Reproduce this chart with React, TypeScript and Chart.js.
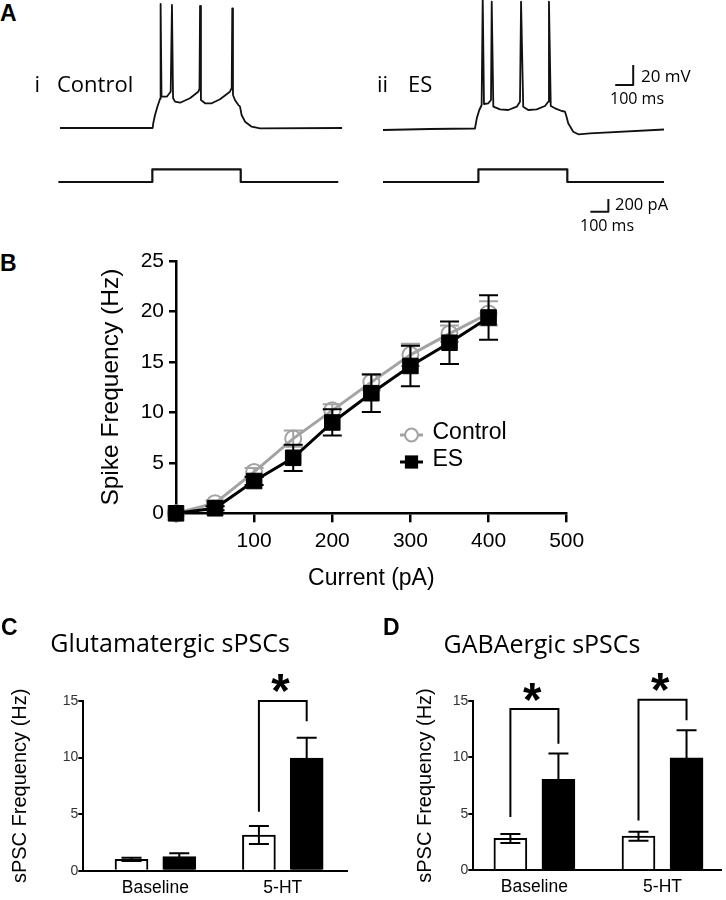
import React, { useEffect, useRef } from 'react';
import { Chart, registerables } from 'chart.js';

Chart.register(...registerables);

const ARIAL = '"Liberation Sans", Arial, Helvetica, sans-serif';
const NARROW = '"Liberation Sans", Arial, Helvetica, sans-serif';
const MYRIAD = '"Open Sans", "Noto Sans", sans-serif';
const GRAY = '#a3a3a3';

// ---------- Panel A : example traces (time ms, potential mV, injected current pA) ----------
const controlVoltTime = [0, 515, 518, 528, 541, 556, 559, 564, 593, 615, 622, 628, 639, 667, 722, 768, 775, 778, 783, 806, 843, 889, 944, 954, 957, 961, 972, 991, 1000, 1009, 1028, 1065, 1111, 1567];
const controlVoltMv = [-65, -65, -60.3, -52, -43.7, -35.7, 59, -33.7, -33.7, -28.7, 58, -35, -38.7, -39.7, -35.3, -28.7, -26, 57, -37, -40.3, -40.3, -36.3, -28.7, -25, 54.7, -32, -37, -42, -43.7, -52, -58.7, -63.7, -65.3, -65];
const controlCurTime = [-9, 513, 513, 1004, 1004, 1546];
const controlCurPa = [0, 0, 200, 200, 0, 0];

const esVoltTime = [0, 261, 511, 521, 535, 548, 554, 561, 585, 600, 604, 613, 650, 696, 743, 761, 767, 779, 807, 854, 900, 918, 922, 932, 956, 993, 1011, 1017, 1029, 1057, 1085, 1150, 1561];
const esVoltMv = [-67, -66, -65.5, -55.3, -47, -42, 66, -41, -40.3, -37, 61.3, -43.7, -46.3, -47, -43.7, -38.7, 61.3, -43.7, -47, -46.3, -43, -38.7, 61.3, -43, -45.3, -48, -48.7, -52, -60.3, -68.7, -71.3, -70.3, -66.5];
const esCurTime = [0, 530, 530, 1024, 1024, 1561];
const esCurPa = [0, 0, 200, 200, 0, 0];

const voltBarTime = [1290, 1390, 1390];
const voltBarMv = [-22, -22, -2];
const curBarTime = [1152, 1252, 1252];
const curBarPa = [-468, -468, -268];

// ---------- Panel B : F-I curve ----------
const currentSteps = [0, 50, 100, 150, 200, 250, 300, 350, 400];
const controlFreq = [0, 1.0, 4.1, 7.4, 10.2, 13.0, 15.7, 17.8, 19.8];
const controlFreqErr = [0, 0.3, 0.4, 0.8, 0.6, 0.8, 1.1, 0.8, 1.2];
const esFreq = [0, 0.5, 3.2, 5.5, 9.0, 11.9, 14.6, 16.9, 19.4];
const esFreqErr = [0, 0.2, 0.4, 1.3, 1.3, 1.85, 2.0, 2.1, 2.2];

// ---------- Panels C, D : sPSC frequency ----------
const conditions = ['Baseline', '5-HT'];
const glutControl = [1.0, 3.15];
const glutControlErr = [0.15, 0.8];
const glutES = [1.25, 9.95];
const glutESErr = [0.3, 1.8];
const gabaControl = [2.8, 3.0];
const gabaControlErr = [0.4, 0.4];
const gabaES = [8.05, 9.95];
const gabaESErr = [2.3, 2.45];
// significance brackets: condition index, left leg start, right leg start, bracket top, star level
const glutSig = [{ index: 1, left: 5.2, right: 13.2, top: 15.0, star: 16.6 }];
const gabaSig = [
  { index: 0, left: 4.7, right: 11.2, top: 14.3, star: 15.8 },
  { index: 1, left: 4.4, right: 13.3, top: 15.1, star: 16.7 },
];

type Pt = { x: number; y: number };
const zip = (xs: number[], ys: number[]): Pt[] => xs.map((x, i) => ({ x, y: ys[i] }));

// ---------- plugins ----------
function drawErrors(chart: any, index: number, topPass: boolean) {
  const ds: any = chart.data.datasets[index];
  if (!ds.errors || !!ds.errorsOnTop !== topPass) return;
  const meta = chart.getDatasetMeta(index);
  const yScale = chart.scales[meta.yAxisID];
  const ctx = chart.ctx;
  ctx.save();
  ctx.strokeStyle = ds.errorColor;
  ctx.lineWidth = ds.errorWidth;
  const half = ds.capWidth / 2;
  meta.data.forEach((el: any, i: number) => {
    const v = ds.data[i].y;
    const e = ds.errors[i];
    if (!e) return;
    const x = el.x;
    const yt = yScale.getPixelForValue(v + e);
    const yb = yScale.getPixelForValue(v - e);
    ctx.beginPath();
    ctx.moveTo(x, yt); ctx.lineTo(x, yb);
    ctx.moveTo(x - half, yt); ctx.lineTo(x + half, yt);
    ctx.moveTo(x - half, yb); ctx.lineTo(x + half, yb);
    ctx.stroke();
  });
  ctx.restore();
}

const errorBarPlugin = {
  id: 'errorBars',
  beforeDatasetDraw(chart: any, args: any) { drawErrors(chart, args.index, false); },
  afterDatasetDraw(chart: any, args: any) { drawErrors(chart, args.index, true); },
};

function drawStar(ctx: CanvasRenderingContext2D, cx: number, cy: number, h: number) {
  ctx.save();
  ctx.font = `bold 100px ${ARIAL}`;
  const m = ctx.measureText('*');
  const gh = m.actualBoundingBoxAscent + m.actualBoundingBoxDescent;
  const fs = (100 * h) / gh;
  ctx.font = `bold ${fs}px ${ARIAL}`;
  const m2 = ctx.measureText('*');
  ctx.textAlign = 'left';
  ctx.textBaseline = 'alphabetic';
  ctx.fillStyle = '#000';
  const x = cx - (m2.actualBoundingBoxRight - m2.actualBoundingBoxLeft) / 2;
  const y = cy + (m2.actualBoundingBoxAscent - m2.actualBoundingBoxDescent) / 2;
  ctx.fillText('*', x, y);
  ctx.restore();
}

const bracketPlugin = {
  id: 'sigBrackets',
  afterDatasetsDraw(chart: any, _a: any, opts: any) {
    const ctx = chart.ctx;
    const y = chart.scales.y;
    const m0 = chart.getDatasetMeta(0);
    const m1 = chart.getDatasetMeta(1);
    (opts.items || []).forEach((b: any) => {
      const xl = m0.data[b.index].x;
      const xr = m1.data[b.index].x;
      const yt = y.getPixelForValue(b.top);
      ctx.save();
      ctx.strokeStyle = '#000';
      ctx.lineWidth = 2;
      ctx.lineJoin = 'miter';
      ctx.beginPath();
      ctx.moveTo(xl, y.getPixelForValue(b.left));
      ctx.lineTo(xl, yt);
      ctx.lineTo(xr, yt);
      ctx.lineTo(xr, y.getPixelForValue(b.right));
      ctx.stroke();
      ctx.restore();
      drawStar(ctx, (xl + xr) / 2 - 2, y.getPixelForValue(b.star), 18);
    });
  },
};

const legendPlugin = {
  id: 'miniLegend',
  afterDraw(chart: any, _a: any, opts: any) {
    const ctx = chart.ctx;
    chart.data.datasets.forEach((ds: any, i: number) => {
      const cx = opts.x;
      const cy = opts.y + i * opts.gap;
      ctx.save();
      ctx.strokeStyle = ds.borderColor;
      ctx.lineWidth = ds.borderWidth;
      ctx.beginPath();
      ctx.moveTo(cx - opts.lineLen / 2, cy);
      ctx.lineTo(cx + opts.lineLen / 2, cy);
      ctx.stroke();
      if (ds.pointStyle === 'rect') {
        const s = ds.pointRadius * Math.SQRT1_2 * 2 * 0.85;
        ctx.fillStyle = ds.pointBackgroundColor;
        ctx.fillRect(cx - s / 2, cy - s / 2, s, s);
      } else {
        ctx.fillStyle = '#fff';
        ctx.lineWidth = ds.pointBorderWidth;
        ctx.strokeStyle = ds.pointBorderColor;
        ctx.beginPath();
        ctx.arc(cx, cy, ds.pointRadius * 0.8, 0, Math.PI * 2);
        ctx.fill();
        ctx.stroke();
      }
      ctx.fillStyle = '#000';
      ctx.font = `${opts.size}px ${NARROW}`;
      ctx.textAlign = 'left';
      ctx.textBaseline = 'middle';
      ctx.fillText(ds.label, opts.textX, cy - 2);
      ctx.restore();
    });
  },
};

// ---------- chart configs ----------
const PX_PER_MS = 0.18;
const PX_PER_MV = 1;
const PX_PER_PA = 0.0635;
const V_REST = -65;
const V_REST_Y = 128;
const I_ZERO_Y = 182;

function traceConfig(voltT: number[], voltV: number[], curT: number[], curI: number[], originX: number, w: number, h: number, extra: any[]) {
  const line = (data: Pt[], axis: string, width: number) => ({
    data, yAxisID: axis, borderColor: '#111', borderWidth: width, pointRadius: 0,
    tension: 0, fill: false, borderJoinStyle: 'round', borderCapStyle: 'butt', clip: false,
  });
  return {
    type: 'line',
    data: {
      datasets: [
        line(zip(voltT, voltV), 'yV', 1.8),
        line(zip(curT, curI), 'yI', 2.2),
        ...extra.map((e) => line(e.data, e.axis, 2)),
      ],
    },
    options: {
      animation: false, responsive: false, events: [], devicePixelRatio: 1,
      layout: { padding: 0 },
      plugins: { legend: { display: false }, tooltip: { enabled: false } },
      scales: {
        x: { type: 'linear', display: false, min: -originX / PX_PER_MS, max: (w - originX) / PX_PER_MS },
        yV: { type: 'linear', display: false, min: V_REST - (h - V_REST_Y) / PX_PER_MV, max: V_REST + V_REST_Y / PX_PER_MV },
        yI: { type: 'linear', display: false, min: -(h - I_ZERO_Y) / PX_PER_PA, max: I_ZERO_Y / PX_PER_PA },
      },
    },
  };
}

function fiConfig() {
  return {
    type: 'line',
    data: {
      datasets: [
        {
          label: 'Control', data: zip(currentSteps, controlFreq), errors: controlFreqErr,
          errorColor: GRAY, errorWidth: 2, capWidth: 19,
          borderColor: GRAY, backgroundColor: 'rgba(0,0,0,0)', borderWidth: 3,
          pointStyle: 'circle', pointRadius: 8, pointBorderWidth: 2, pointBorderColor: GRAY,
          pointBackgroundColor: 'rgba(255,255,255,0)', order: 2, clip: false, tension: 0,
        },
        {
          label: 'ES', data: zip(currentSteps, esFreq), errors: esFreqErr,
          errorColor: '#000', errorWidth: 2, capWidth: 19,
          borderColor: '#000', backgroundColor: '#000', borderWidth: 3,
          pointStyle: 'rect', pointRadius: 11, pointBorderWidth: 1, pointBorderColor: '#000',
          pointBackgroundColor: '#000', order: 1, clip: false, tension: 0,
        },
      ],
    },
    plugins: [errorBarPlugin, legendPlugin],
    options: {
      animation: false, responsive: false, events: [], devicePixelRatio: 1,
      layout: { padding: { top: 31, right: 33.3, left: 0, bottom: 0 } },
      plugins: {
        legend: { display: false }, tooltip: { enabled: false },
        miniLegend: { x: 351.5, y: 205, gap: 27, lineLen: 23, textX: 372.5, size: 23 },
      },
      scales: {
        x: {
          type: 'linear', min: 0, max: 500,
          afterFit: (s: any) => { s.height = 106.7; },
          ticks: { stepSize: 100, padding: 6.8, color: '#000', font: { family: NARROW, size: 21 }, callback: (v: number) => (v === 0 ? '' : String(v)) },
          grid: { drawOnChartArea: false, drawTicks: true, tickLength: 9, color: '#000', lineWidth: 2.5 },
          border: { display: true, color: '#000', width: 2.5 },
          title: { display: true, text: 'Current (pA)', color: '#000', font: { family: NARROW, size: 23 }, padding: { top: 0, bottom: 27.9 } },
        },
        y: {
          type: 'linear', min: 0, max: 25,
          afterFit: (s: any) => { s.width = 116; },
          ticks: { stepSize: 5, padding: 5, color: '#000', font: { family: NARROW, size: 21 } },
          grid: { drawOnChartArea: false, drawTicks: true, tickLength: 7, color: '#000', lineWidth: 2.5 },
          border: { display: true, color: '#000', width: 2.5 },
          title: { display: true, text: 'Spike Frequency (Hz)', color: '#000', font: { family: NARROW, size: 24.5 }, padding: { top: 36.3, bottom: 0 } },
        },
      },
    },
  };
}

const BAR_OFF = 0.1875;

function barConfig(ctrl: number[], ctrlErr: number[], es: number[], esErr: number[], sig: any[], lay: any) {
  return {
    type: 'bar',
    data: {
      datasets: [
        {
          label: 'Control', data: conditions.map((_c, i) => ({ x: i + 1 - BAR_OFF, y: ctrl[i] })),
          errors: ctrlErr, errorsOnTop: true, errorColor: '#000', errorWidth: 2, capWidth: 20,
          backgroundColor: '#fff', borderColor: '#000', borderWidth: 2, borderSkipped: 'start',
          barThickness: 33, grouped: false,
        },
        {
          label: 'ES', data: conditions.map((_c, i) => ({ x: i + 1 + BAR_OFF, y: es[i] })),
          errors: esErr, errorsOnTop: true, errorColor: '#000', errorWidth: 2, capWidth: 20,
          backgroundColor: '#000', borderColor: '#000', borderWidth: 2, borderSkipped: 'start',
          barThickness: 33, grouped: false,
        },
      ],
    },
    plugins: [errorBarPlugin, bracketPlugin],
    options: {
      animation: false, responsive: false, events: [], devicePixelRatio: 1,
      layout: { padding: { top: 41, right: lay.right, left: 0, bottom: 0 } },
      plugins: { legend: { display: false }, tooltip: { enabled: false }, sigBrackets: { items: sig } },
      scales: {
        x: {
          type: 'linear', min: lay.min, max: lay.max, offset: false,
          afterFit: (s: any) => { s.height = lay.bottom; },
          afterBuildTicks: (s: any) => { s.ticks = conditions.map((_c, i) => ({ value: i + 1 })); },
          ticks: { padding: 6.8, color: '#000', font: { family: ARIAL, size: 17.5 }, callback: (v: number) => conditions[Math.round(v) - 1] },
          grid: { display: false, drawTicks: false, offset: false },
          border: { display: true, color: '#000', width: 2 },
        },
        y: {
          type: 'linear', min: 0, max: 15,
          afterFit: (s: any) => { s.width = lay.left; },
          ticks: { stepSize: 5, padding: 0, color: '#333', font: { family: ARIAL, size: 14 } },
          grid: { drawOnChartArea: false, drawTicks: true, tickLength: 5, color: '#000', lineWidth: 2 },
          border: { display: true, color: '#000', width: 2 },
          title: { display: true, text: 'sPSC Frequency (Hz)', color: '#000', font: { family: ARIAL, size: 20 }, padding: { top: lay.titlePad, bottom: 0 } },
        },
      },
    },
  };
}

// ---------- components ----------
function ChartBox({ left, top, width, height, make }: { left: number; top: number; width: number; height: number; make: () => any }) {
  const ref = useRef<HTMLCanvasElement>(null);
  useEffect(() => {
    const chart = new Chart(ref.current as HTMLCanvasElement, make());
    return () => chart.destroy();
  }, []);
  return <canvas ref={ref} width={width} height={height} style={{ position: 'absolute', left, top, width, height }} />;
}

function Txt({ x, y, size, family, weight, children }: { x: number; y: number; size: number; family: string; weight?: number; children: React.ReactNode }) {
  return (
    <div style={{ position: 'absolute', left: x, top: y, fontSize: size, lineHeight: `${size}px`, fontFamily: family, fontWeight: weight || 400, color: '#000', whiteSpace: 'nowrap' }}>
      {children}
    </div>
  );
}

export default function App() {
  return (
    <div style={{ position: 'absolute', left: 0, top: 0, width: 726, height: 900, background: '#fff', overflow: 'hidden' }}>
      <ChartBox left={40} top={0} width={320} height={235}
        make={() => traceConfig(controlVoltTime, controlVoltMv, controlCurTime, controlCurPa, 20, 320, 235, [])} />
      <ChartBox left={370} top={0} width={340} height={235}
        make={() => traceConfig(esVoltTime, esVoltMv, esCurTime, esCurPa, 13, 340, 235, [
          { data: zip(voltBarTime, voltBarMv), axis: 'yV' },
          { data: zip(curBarTime, curBarPa), axis: 'yI' },
        ])} />
      <ChartBox left={60} top={230} width={540} height={390} make={fiConfig} />
      <ChartBox left={0} top={660} width={360} height={240}
        make={() => barConfig(glutControl, glutControlErr, glutES, glutESErr, glutSig,
          { left: 83.3, right: 13, bottom: 29.3, min: 0.434, max: 2.504, titlePad: 8 })} />
      <ChartBox left={360} top={660} width={366} height={240}
        make={() => barConfig(gabaControl, gabaControlErr, gabaES, gabaESErr, gabaSig,
          { left: 113.3, right: 4.3, bottom: 30, min: 0.523, max: 2.462, titlePad: 53 })} />

      <Txt x={0} y={2} size={23} family={ARIAL} weight={700}>A</Txt>
      <Txt x={34.5} y={71.6} size={22} family={MYRIAD}>i</Txt>
      <Txt x={57} y={71.6} size={22} family={MYRIAD}>Control</Txt>
      <Txt x={377} y={71.6} size={22} family={MYRIAD}>ii</Txt>
      <Txt x={408} y={71.6} size={22} family={MYRIAD}>ES</Txt>
      <Txt x={641} y={66.7} size={17} family={MYRIAD}>20 mV</Txt>
      <Txt x={610} y={89.8} size={16} family={MYRIAD}>100 ms</Txt>
      <Txt x={615} y={196.2} size={16.5} family={MYRIAD}>200 pA</Txt>
      <Txt x={580} y={216.5} size={16} family={MYRIAD}>100 ms</Txt>

      <Txt x={0} y={252} size={23} family={ARIAL} weight={700}>B</Txt>

      <Txt x={1} y={616} size={23} family={ARIAL} weight={700}>C</Txt>
      <Txt x={50.3} y={630} size={25} family={MYRIAD}>Glutamatergic sPSCs</Txt>
      <Txt x={383} y={616} size={23} family={ARIAL} weight={700}>D</Txt>
      <Txt x={443.6} y={630.7} size={25} family={MYRIAD}>GABAergic sPSCs</Txt>
    </div>
  );
}
